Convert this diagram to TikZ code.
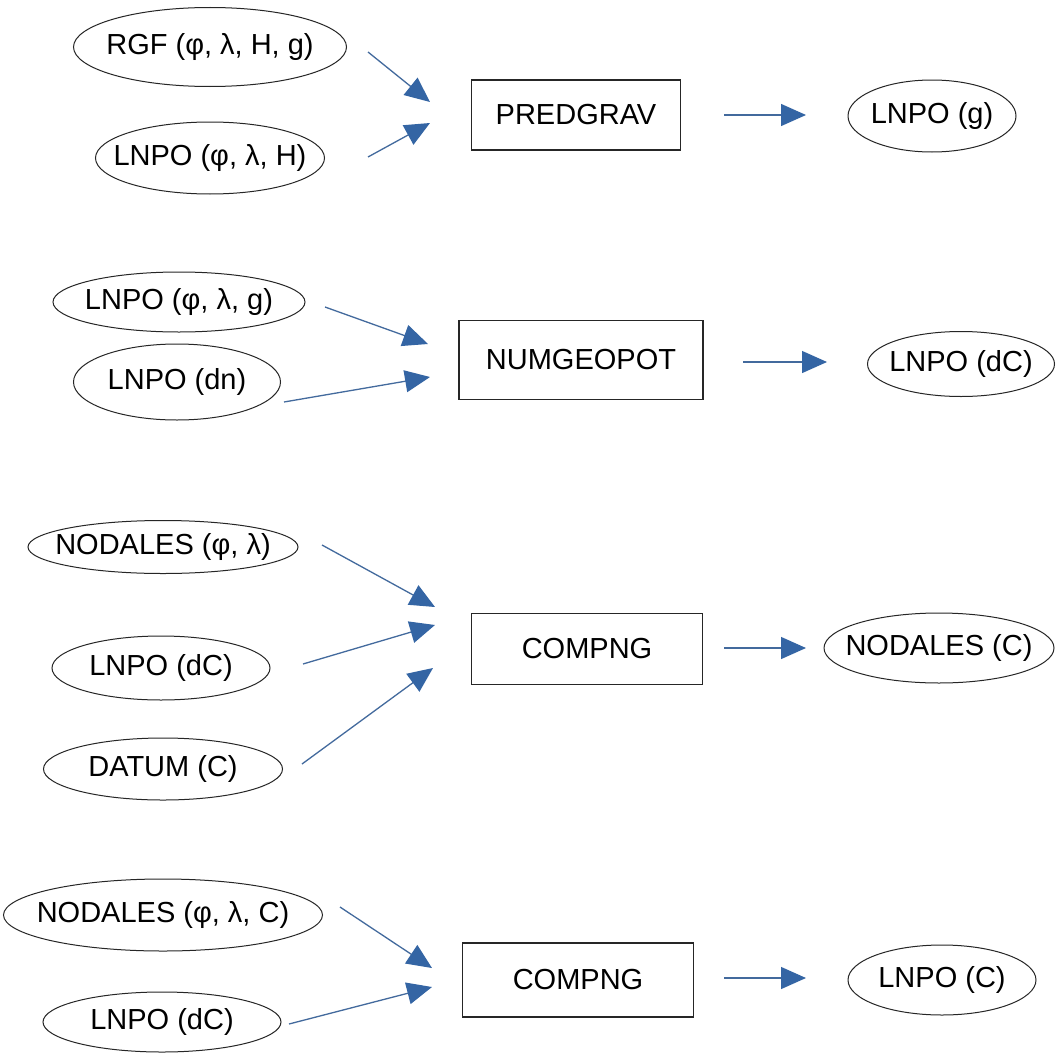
\documentclass[tikz,border=0pt]{standalone}
\usepackage{fontspec}
\setmainfont{Liberation Sans}
\usetikzlibrary{arrows.meta,shapes.geometric}
\definecolor{arrowblue}{HTML}{3465A4}
\begin{document}
\begin{tikzpicture}[x=1pt,y=-1pt,
  txt/.style={font=\fontsize{29}{34}\selectfont,inner sep=0pt},
  ell/.style={draw=black!85,line width=1pt,ellipse,inner sep=0pt,label={[txt]center:#1}},
  box/.style={draw=black!85,line width=1.3pt,rectangle,inner sep=0pt,font=\fontsize{29}{34}\selectfont},
  conn/.style={draw=arrowblue!80!gray,line width=1.3pt,-{Triangle[length=25pt,width=22pt,fill=arrowblue,color=arrowblue]}}]
\useasboundingbox[fill=white] (0,0) rectangle (1057,1057);

% Row 1
\node[ell={RGF (φ, λ, H, g)},minimum width=273pt,minimum height=79pt] (e11) at (210,47) {};
\node[ell={LNPO (φ, λ, H)},minimum width=229pt,minimum height=72pt] (e12) at (210,158) {};
\node[box,minimum width=209pt,minimum height=70pt] (b1) at (576,115) {PREDGRAV};
\node[ell={LNPO (g)},minimum width=168pt,minimum height=72pt] (o1) at (932,116) {};
\coordinate (s11) at (368,52);  \coordinate (t11) at (430,102);
\coordinate (s12) at (368,157); \coordinate (t12) at (430,123);
\coordinate (s13) at (724,115); \coordinate (t13) at (806,115);
\draw[conn] (s11) -- (t11);
\draw[conn] (s12) -- (t12);
\draw[conn] (s13) -- (t13);

% Row 2
\node[ell={LNPO (φ, λ, g)},minimum width=252pt,minimum height=60pt] (e21) at (179,302) {};
\node[ell={LNPO (dn)},minimum width=207pt,minimum height=76pt] (e22) at (177,382) {};
\node[box,minimum width=244pt,minimum height=79pt] (b2) at (581,360) {NUMGEOPOT};
\node[ell={LNPO (dC)},minimum width=187pt,minimum height=65pt] (o2) at (961,364) {};
\coordinate (s21) at (325,307); \coordinate (t21) at (428,344);
\coordinate (s22) at (284,402); \coordinate (t22) at (430,377);
\coordinate (s23) at (743,362); \coordinate (t23) at (827,362);
\draw[conn] (s21) -- (t21);
\draw[conn] (s22) -- (t22);
\draw[conn] (s23) -- (t23);

% Row 3
\node[ell={NODALES (φ, λ)},minimum width=270pt,minimum height=53pt] (e31) at (163,547) {};
\node[ell={LNPO (dC)},minimum width=218pt,minimum height=64pt] (e32) at (161,668) {};
\node[ell={DATUM (C)},minimum width=239pt,minimum height=62pt] (e33) at (163,769) {};
\node[box,minimum width=231pt,minimum height=71pt] (b3) at (587,649) {COMPNG};
\node[ell={NODALES (C)},minimum width=230pt,minimum height=70pt] (o3) at (939,648) {};
\coordinate (s31) at (322,545); \coordinate (t31) at (435,607);
\coordinate (s32) at (303,664); \coordinate (t32) at (435,625);
\coordinate (s33) at (302,764); \coordinate (t33) at (433,668);
\coordinate (s34) at (724,648); \coordinate (t34) at (806,648);
\draw[conn] (s31) -- (t31);
\draw[conn] (s32) -- (t32);
\draw[conn] (s33) -- (t33);
\draw[conn] (s34) -- (t34);

% Row 4
\node[ell={NODALES (φ, λ, C)},minimum width=319pt,minimum height=72pt] (e41) at (163,915) {};
\node[ell={LNPO (dC)},minimum width=238pt,minimum height=60pt] (e42) at (162,1022) {};
\node[box,minimum width=231pt,minimum height=74pt] (b4) at (578,980) {COMPNG};
\node[ell={LNPO (C)},minimum width=188pt,minimum height=70pt] (o4) at (942,980) {};
\coordinate (s41) at (340,907);  \coordinate (t41) at (432,968);
\coordinate (s42) at (289,1024); \coordinate (t42) at (432,987);
\coordinate (s43) at (724,978);  \coordinate (t43) at (806,978);
\draw[conn] (s41) -- (t41);
\draw[conn] (s42) -- (t42);
\draw[conn] (s43) -- (t43);
\end{tikzpicture}
\end{document}
